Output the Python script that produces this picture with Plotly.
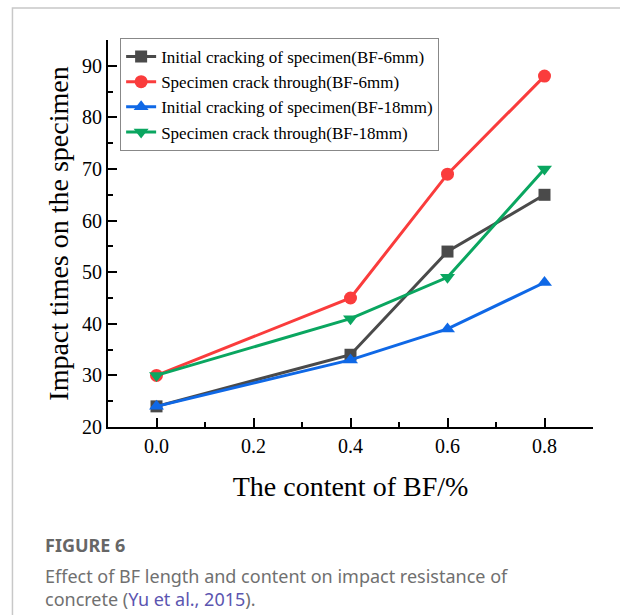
import plotly.graph_objects as go

# BF content (%) on the x axis
bf_content = [0.0, 0.4, 0.6, 0.8]

# Impact counts for each specimen series
initial_6mm = [24, 34, 54, 65]
through_6mm = [30, 45, 69, 88]
initial_18mm = [24, 33, 39, 48]
through_18mm = [30, 41, 49, 70]

series_names = [
    "Initial cracking of specimen(BF-6mm)",
    "Specimen crack through(BF-6mm)",
    "Initial cracking of specimen(BF-18mm)",
    "Specimen crack through(BF-18mm)",
]
series_values = [initial_6mm, through_6mm, initial_18mm, through_18mm]
series_colors = ["#4a4a4a", "#fa3c3c", "#0f68e6", "#0aa660"]
series_symbols = ["square", "circle", "triangle-up", "triangle-down"]
series_sizes = [12, 13, 13, 13]

x_ticks = [0.0, 0.2, 0.4, 0.6, 0.8]
x_tick_text = ["0.0", "0.2", "0.4", "0.6", "0.8"]
y_ticks = [20, 30, 40, 50, 60, 70, 80, 90]

serif = "Liberation Serif, Times New Roman, serif"
sans = "Noto Sans, sans-serif"

fig = go.Figure()
for name, vals, col, sym, sz in zip(series_names, series_values, series_colors,
                                    series_symbols, series_sizes):
    fig.add_trace(go.Scatter(
        x=bf_content, y=vals, name=name, mode="lines+markers",
        line=dict(color=col, width=3),
        marker=dict(symbol=sym, size=sz, color=col),
        cliponaxis=False,
    ))

axis_common = dict(
    showline=True, linecolor="black", linewidth=2,
    ticks="inside", ticklen=9, tickwidth=2, tickcolor="black",
    showgrid=False, zeroline=False, mirror=False,
    tickfont=dict(family=serif, size=20, color="black"),
)

fig.update_xaxes(
    range=[-0.1, 0.9], tickvals=x_ticks, ticktext=x_tick_text,
    minor=dict(dtick=0.1, tick0=0, ticks="inside", ticklen=5, tickwidth=2, tickcolor="black"),
    title=dict(text="The content of BF/%", font=dict(family=serif, size=28, color="black"),
               standoff=20),
    **axis_common,
)
fig.update_yaxes(
    range=[20, 95], tickvals=y_ticks,
    minor=dict(dtick=5, tick0=0, ticks="inside", ticklen=5, tickwidth=2, tickcolor="black"),
    title=dict(text="Impact times on the specimen", font=dict(family=serif, size=28, color="black"),
               standoff=5),
    **axis_common,
)

# Outer card outline
fig.add_shape(type="rect", xref="paper", yref="paper",
              x0=-0.197, x1=1.2, y0=-0.55, y1=1.083,
              line=dict(color="#c8c8c8", width=1.5), fillcolor="rgba(0,0,0,0)", layer="below")

# Caption
fig.add_annotation(xref="paper", yref="paper", x=-0.134, y=-0.305, xanchor="left", yanchor="middle",
                   text="<b>FIGURE 6</b>", showarrow=False,
                   font=dict(family=sans, size=18, color="#666666"))
fig.add_annotation(xref="paper", yref="paper", x=-0.134, y=-0.415, xanchor="left", yanchor="middle",
                   align="left", showarrow=False,
                   text="Effect of BF length and content on impact resistance of<br>"
                        "concrete (<span style='color:#5b55b0'>Yu et al., 2015</span>).",
                   font=dict(family=sans, size=18, color="#707070"))

fig.update_layout(
    width=620, height=615,
    margin=dict(l=108, r=27, t=40, b=188),
    paper_bgcolor="white", plot_bgcolor="white",
    showlegend=True,
    legend=dict(
        x=0.025, y=1.005, xanchor="left", yanchor="top",
        bordercolor="#888888", borderwidth=1, bgcolor="white",
        font=dict(family=serif, size=17, color="black"),
        tracegroupgap=0, itemwidth=30,
    ),
)

fig.write_html("out.html")
